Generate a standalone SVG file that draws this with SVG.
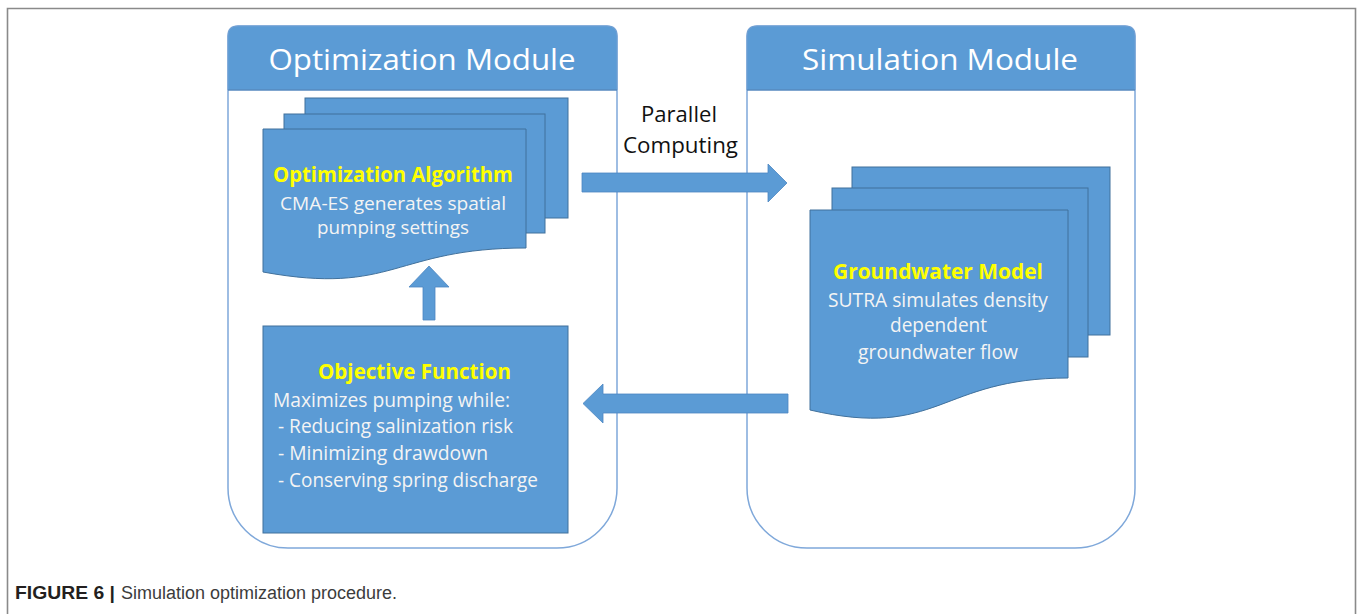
<svg xmlns="http://www.w3.org/2000/svg" width="1362" height="614" viewBox="0 0 1362 614">
<style>
.frame{fill:none;stroke:#8a8a8a;stroke-width:1.6}
.mod{fill:#ffffff;stroke:#7fa8da;stroke-width:1.5}
.hdr{fill:#5b9bd5;stroke:#6f9fd3;stroke-width:1}
.hdrline{stroke:#4a7fb5;stroke-width:1}
.sheet{fill:#5b9bd5;stroke:#41719c;stroke-width:1}
.arrow{fill:#5b9bd5;stroke:#4d86c1;stroke-width:0.8}
.htxt{font-family:"Open Sans","Noto Sans",sans-serif;font-size:30px;fill:#ffffff;text-anchor:middle}
.ttl{font-family:"Open Sans","Noto Sans",sans-serif;font-size:21px;font-weight:bold;fill:#ffff00;text-anchor:middle}
.body{font-family:"Open Sans","Noto Sans",sans-serif;font-size:20px;fill:#f4f4f4}
.sm{font-size:18.5px}
.mid{text-anchor:middle}
.lbl{font-family:"Open Sans","Noto Sans",sans-serif;font-size:21px;fill:#111111;text-anchor:middle}
.capb{font-family:"Liberation Sans",Arial,sans-serif;font-size:18px;font-weight:bold;fill:#231f20}
.cap{font-family:"Liberation Sans",Arial,sans-serif;font-size:18px;fill:#3c3c3c}
</style>
<rect width="1362" height="614" fill="#ffffff"/>
<path class="frame" d="M7.5,614 V8.5 H1355.5 V614"/>

<g id="optimization-module">
  <path class="mod" d="M228,36 Q228,26 238,26 H607 Q617,26 617,36 V488 A60,60 0 0 1 557,548 H288 A60,60 0 0 1 228,488 Z"/>
  <path class="hdr" d="M228,90 V36 Q228,26 238,26 H607 Q617,26 617,36 V90 Z"/>
  <line class="hdrline" x1="228" y1="90" x2="617" y2="90"/>
  <text class="htxt" x="422" y="70" textLength="307" lengthAdjust="spacingAndGlyphs">Optimization Module</text>
</g>

<g id="simulation-module">
  <path class="mod" d="M747,36 Q747,26 757,26 H1125 Q1135,26 1135,36 V488 A60,60 0 0 1 1075,548 H807 A60,60 0 0 1 747,488 Z"/>
  <path class="hdr" d="M747,90 V36 Q747,26 757,26 H1125 Q1135,26 1135,36 V90 Z"/>
  <line class="hdrline" x1="747" y1="90" x2="1135" y2="90"/>
  <text class="htxt" x="940" y="70" textLength="276" lengthAdjust="spacingAndGlyphs">Simulation Module</text>
</g>

<g id="optimization-algorithm">
  <rect class="sheet" x="305" y="98" width="263" height="120"/>
  <rect class="sheet" x="284" y="114" width="261" height="119"/>
  <path class="sheet" d="M263,129 H526 V248 C394,248 394,296 263,272 Z"/>
  <text class="ttl" x="393" y="182" textLength="240" lengthAdjust="spacingAndGlyphs">Optimization Algorithm</text>
  <text class="body sm mid" x="393" y="210" textLength="226" lengthAdjust="spacingAndGlyphs">CMA-ES generates spatial</text>
  <text class="body sm mid" x="393" y="234" textLength="152" lengthAdjust="spacingAndGlyphs">pumping settings</text>
</g>

<g id="objective-function">
  <rect class="sheet" x="263" y="326" width="305" height="207"/>
  <text class="ttl" x="414.5" y="379" textLength="193" lengthAdjust="spacingAndGlyphs">Objective Function</text>
  <text class="body" x="273" y="407" textLength="237" lengthAdjust="spacingAndGlyphs">Maximizes pumping while:</text>
  <text class="body" x="278" y="433" textLength="235" lengthAdjust="spacingAndGlyphs">- Reducing salinization risk</text>
  <text class="body" x="278" y="460" textLength="210" lengthAdjust="spacingAndGlyphs">- Minimizing drawdown</text>
  <text class="body" x="278" y="487" textLength="260" lengthAdjust="spacingAndGlyphs">- Conserving spring discharge</text>
</g>

<g id="groundwater-model">
  <rect class="sheet" x="852" y="167" width="258" height="168"/>
  <rect class="sheet" x="832" y="188" width="256" height="169"/>
  <path class="sheet" d="M810,210 H1068 V378 C939,378 939,440 810,410 Z"/>
  <text class="ttl" x="938" y="279" textLength="210" lengthAdjust="spacingAndGlyphs">Groundwater Model</text>
  <text class="body mid" x="938" y="307" textLength="220" lengthAdjust="spacingAndGlyphs">SUTRA simulates density</text>
  <text class="body mid" x="938.5" y="332" textLength="97" lengthAdjust="spacingAndGlyphs">dependent</text>
  <text class="body mid" x="938" y="359" textLength="160" lengthAdjust="spacingAndGlyphs">groundwater flow</text>
</g>

<g id="connectors">
  <polygon class="arrow" points="582,173 768,173 768,164 787,183 768,202 768,192 582,192"/>
  <polygon class="arrow" points="788,394 603,394 603,384 583,403.5 603,423 603,413 788,413"/>
  <polygon class="arrow" points="423,320 423,287 409,287 429,266 449,287 435,287 435,320"/>
  <text class="lbl" x="679" y="122" textLength="76" lengthAdjust="spacingAndGlyphs">Parallel</text>
  <text class="lbl" x="680.5" y="153" textLength="115" lengthAdjust="spacingAndGlyphs">Computing</text>
</g>

<g id="caption">
  <text class="capb" x="15" y="599" textLength="100" lengthAdjust="spacingAndGlyphs">FIGURE 6 |</text>
  <text class="cap" x="121" y="599" textLength="276" lengthAdjust="spacingAndGlyphs">Simulation optimization procedure.</text>
</g>
</svg>
